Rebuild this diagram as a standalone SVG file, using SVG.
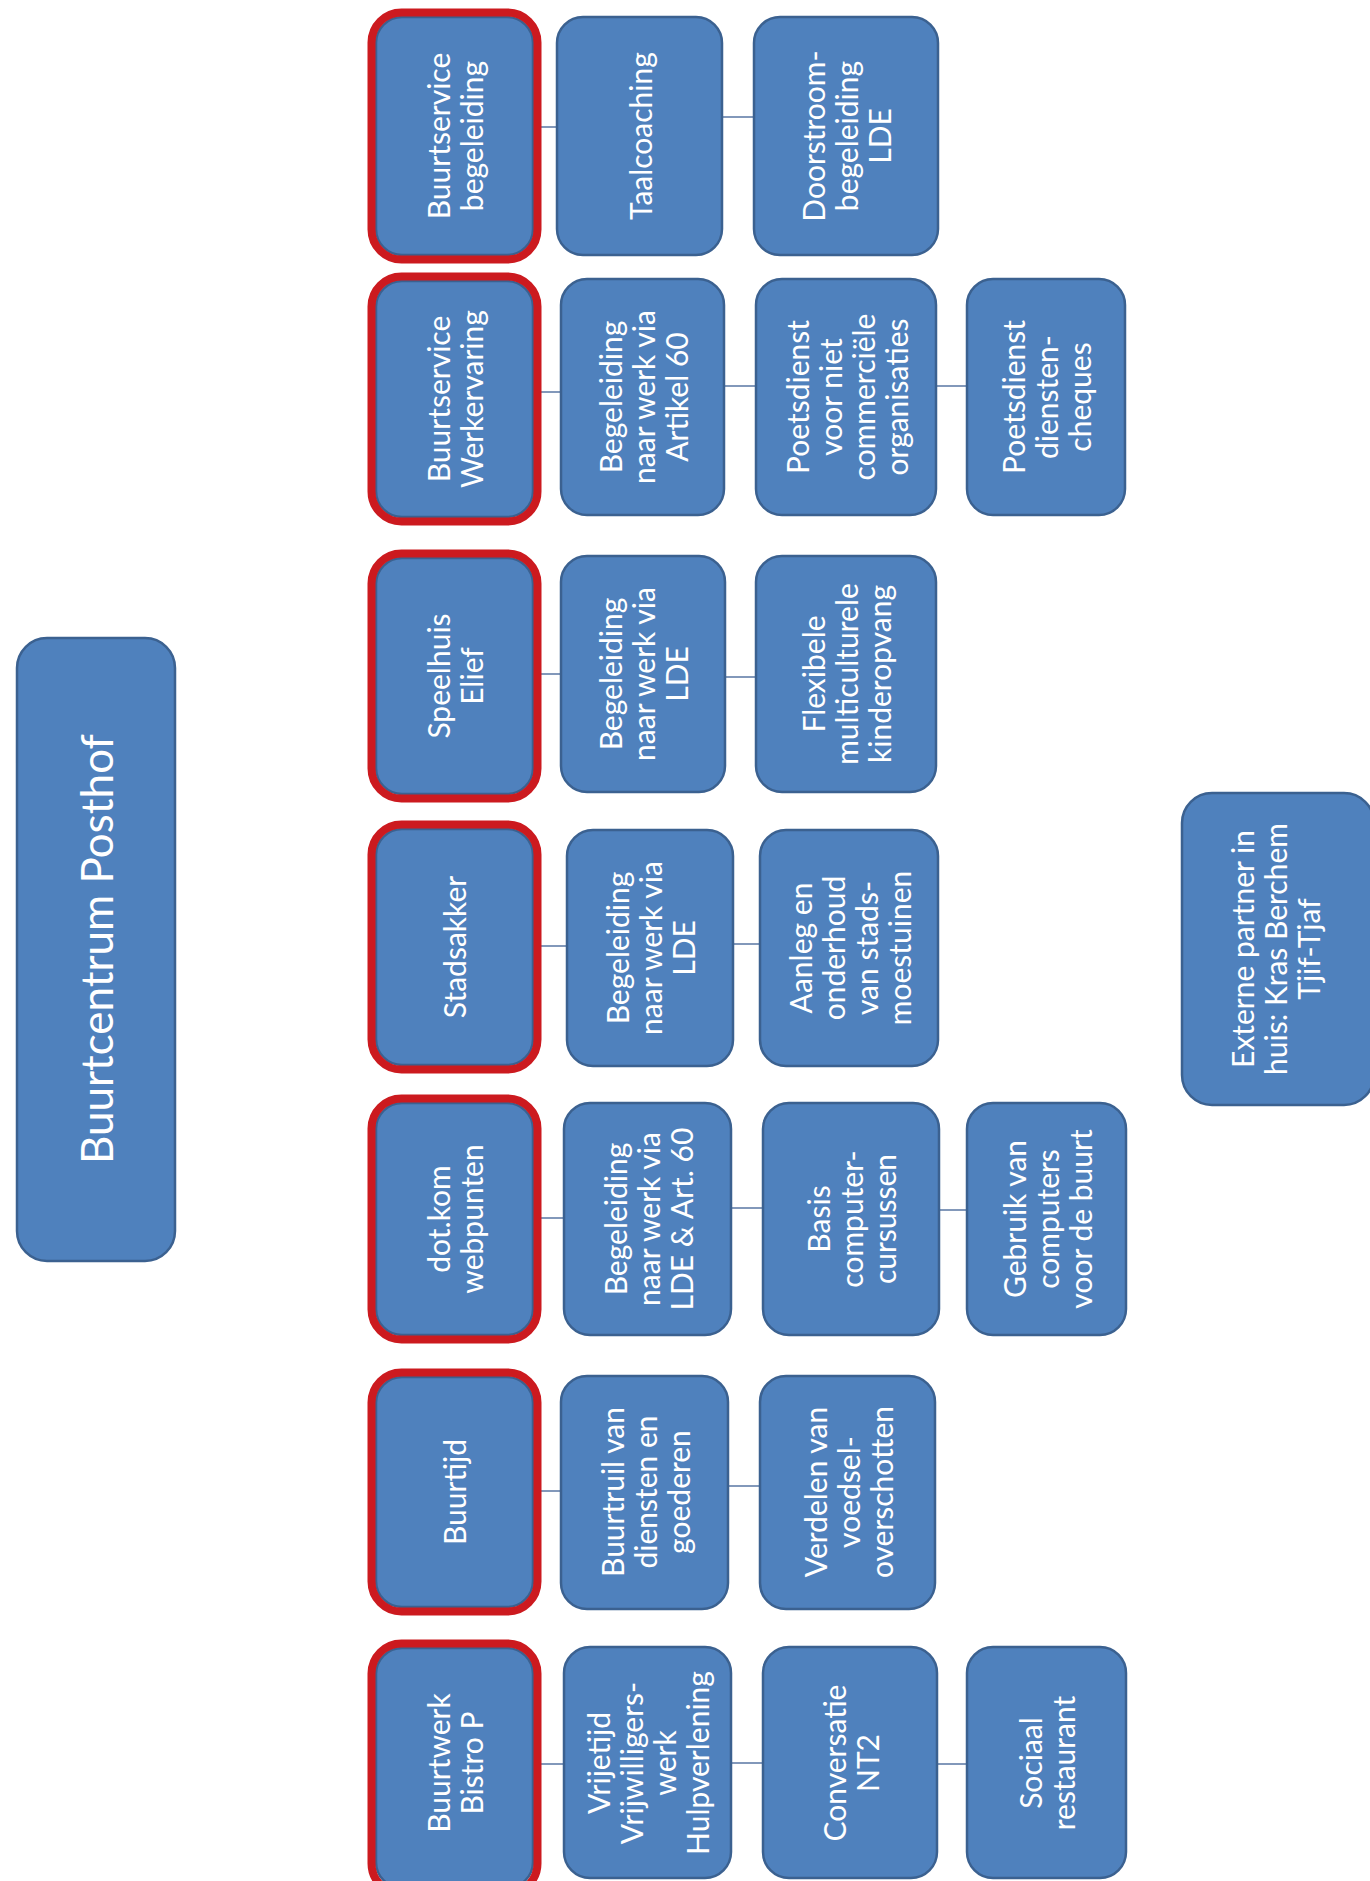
<svg xmlns="http://www.w3.org/2000/svg" width="1370" height="1881" viewBox="0 0 1370 1881">
<style>
.box{fill:#4F81BD;stroke:#3B6190;stroke-width:2.5}
.hl{fill:none;stroke:#CC1A1F;stroke-width:8}
.t{font-family:"Lato","Open Sans","Liberation Sans",sans-serif;font-size:30px;fill:#FFFFFF;text-anchor:middle;dominant-baseline:central}
.big{font-size:44px}
.c{stroke:#8298BA;stroke-width:2;fill:none}
</style>
<rect width="1370" height="1881" fill="#FFFFFF"/>
<g id="connectors">
<line class="c" x1="533" y1="127" x2="557" y2="127"/>
<line class="c" x1="722" y1="117" x2="754" y2="117"/>
<line class="c" x1="533" y1="392" x2="561" y2="392"/>
<line class="c" x1="724" y1="386" x2="756" y2="386"/>
<line class="c" x1="936" y1="386" x2="967" y2="386"/>
<line class="c" x1="533" y1="674" x2="561" y2="674"/>
<line class="c" x1="725" y1="677" x2="756" y2="677"/>
<line class="c" x1="533" y1="946" x2="567" y2="946"/>
<line class="c" x1="733" y1="944" x2="760" y2="944"/>
<line class="c" x1="533" y1="1218" x2="564" y2="1218"/>
<line class="c" x1="731" y1="1208" x2="763" y2="1208"/>
<line class="c" x1="939" y1="1210" x2="967" y2="1210"/>
<line class="c" x1="533" y1="1491" x2="561" y2="1491"/>
<line class="c" x1="728" y1="1486" x2="760" y2="1486"/>
<line class="c" x1="533" y1="1764" x2="564" y2="1764"/>
<line class="c" x1="731" y1="1763" x2="763" y2="1763"/>
<line class="c" x1="937" y1="1764" x2="967" y2="1764"/>
</g>
<g id="root">
<rect class="box" x="17" y="638" width="158" height="623" rx="30"/>
<text class="t big" transform="translate(96,949) rotate(-90)"><tspan x="0" y="0">Buurtcentrum Posthof</tspan></text>
</g>
<g id="externe">
<rect class="box" x="1182" y="793" width="192" height="312" rx="30"/>
<text class="t" transform="translate(1275,949) rotate(-90)"><tspan x="0" y="-33">Externe partner in</tspan><tspan x="0" y="0">huis: Kras Berchem</tspan><tspan x="0" y="33">Tjif-Tjaf</tspan></text>
</g>
<g id="r1a">
<rect class="box" x="376" y="17" width="157" height="238" rx="26"/>
<rect class="hl" x="371.5" y="12.5" width="166" height="247" rx="30"/>
<text class="t" transform="translate(454,136) rotate(-90)"><tspan x="0" y="-16.5">Buurtservice</tspan><tspan x="0" y="16.5">begeleiding</tspan></text>
</g>
<g id="r1b">
<rect class="box" x="557" y="17" width="165" height="238" rx="26"/>
<text class="t" transform="translate(639.5,136) rotate(-90)"><tspan x="0" y="0">Taalcoaching</tspan></text>
</g>
<g id="r1c">
<rect class="box" x="754" y="17" width="184" height="238" rx="26"/>
<text class="t" transform="translate(846,136) rotate(-90)"><tspan x="0" y="-33">Doorstroom-</tspan><tspan x="0" y="0">begeleiding</tspan><tspan x="0" y="33">LDE</tspan></text>
</g>
<g id="r2a">
<rect class="box" x="376" y="281" width="157" height="236" rx="26"/>
<rect class="hl" x="371.5" y="276.5" width="166" height="245" rx="30"/>
<text class="t" transform="translate(454,399) rotate(-90)"><tspan x="0" y="-16.5">Buurtservice</tspan><tspan x="0" y="16.5">Werkervaring</tspan></text>
</g>
<g id="r2b">
<rect class="box" x="561" y="279" width="163" height="236" rx="26"/>
<text class="t" transform="translate(642.5,397) rotate(-90)"><tspan x="0" y="-33">Begeleiding</tspan><tspan x="0" y="0">naar werk via</tspan><tspan x="0" y="33">Artikel 60</tspan></text>
</g>
<g id="r2c">
<rect class="box" x="756" y="279" width="180" height="236" rx="26"/>
<text class="t" transform="translate(846,397) rotate(-90)"><tspan x="0" y="-49.5">Poetsdienst</tspan><tspan x="0" y="-16.5">voor niet</tspan><tspan x="0" y="16.5">commerciële</tspan><tspan x="0" y="49.5">organisaties</tspan></text>
</g>
<g id="r2d">
<rect class="box" x="967" y="279" width="158" height="236" rx="26"/>
<text class="t" transform="translate(1046,397) rotate(-90)"><tspan x="0" y="-33">Poetsdienst</tspan><tspan x="0" y="0">diensten-</tspan><tspan x="0" y="33">cheques</tspan></text>
</g>
<g id="r3a">
<rect class="box" x="376" y="558" width="157" height="236" rx="26"/>
<rect class="hl" x="371.5" y="553.5" width="166" height="245" rx="30"/>
<text class="t" transform="translate(454,676) rotate(-90)"><tspan x="0" y="-16.5">Speelhuis</tspan><tspan x="0" y="16.5">Elief</tspan></text>
</g>
<g id="r3b">
<rect class="box" x="561" y="556" width="164" height="236" rx="26"/>
<text class="t" transform="translate(643,674) rotate(-90)"><tspan x="0" y="-33">Begeleiding</tspan><tspan x="0" y="0">naar werk via</tspan><tspan x="0" y="33">LDE</tspan></text>
</g>
<g id="r3c">
<rect class="box" x="756" y="556" width="180" height="236" rx="26"/>
<text class="t" transform="translate(846,674) rotate(-90)"><tspan x="0" y="-33">Flexibele</tspan><tspan x="0" y="0">multiculturele</tspan><tspan x="0" y="33">kinderopvang</tspan></text>
</g>
<g id="r4a">
<rect class="box" x="376" y="829" width="157" height="236" rx="26"/>
<rect class="hl" x="371.5" y="824.5" width="166" height="245" rx="30"/>
<text class="t" transform="translate(454,947) rotate(-90)"><tspan x="0" y="0">Stadsakker</tspan></text>
</g>
<g id="r4b">
<rect class="box" x="567" y="830" width="166" height="236" rx="26"/>
<text class="t" transform="translate(650,948) rotate(-90)"><tspan x="0" y="-33">Begeleiding</tspan><tspan x="0" y="0">naar werk via</tspan><tspan x="0" y="33">LDE</tspan></text>
</g>
<g id="r4c">
<rect class="box" x="760" y="830" width="178" height="236" rx="26"/>
<text class="t" transform="translate(849,948) rotate(-90)"><tspan x="0" y="-49.5">Aanleg en</tspan><tspan x="0" y="-16.5">onderhoud</tspan><tspan x="0" y="16.5">van stads-</tspan><tspan x="0" y="49.5">moestuinen</tspan></text>
</g>
<g id="r5a">
<rect class="box" x="376" y="1103" width="157" height="232" rx="26"/>
<rect class="hl" x="371.5" y="1098.5" width="166" height="241" rx="30"/>
<text class="t" transform="translate(454,1219) rotate(-90)"><tspan x="0" y="-16.5">dot.kom</tspan><tspan x="0" y="16.5">webpunten</tspan></text>
</g>
<g id="r5b">
<rect class="box" x="564" y="1103" width="167" height="232" rx="26"/>
<text class="t" transform="translate(647.5,1219) rotate(-90)"><tspan x="0" y="-33">Begeleiding</tspan><tspan x="0" y="0">naar werk via</tspan><tspan x="0" y="33">LDE &amp; Art. 60</tspan></text>
</g>
<g id="r5c">
<rect class="box" x="763" y="1103" width="176" height="232" rx="26"/>
<text class="t" transform="translate(851,1219) rotate(-90)"><tspan x="0" y="-33">Basis</tspan><tspan x="0" y="0">computer-</tspan><tspan x="0" y="33">cursussen</tspan></text>
</g>
<g id="r5d">
<rect class="box" x="967" y="1103" width="159" height="232" rx="26"/>
<text class="t" transform="translate(1046.5,1219) rotate(-90)"><tspan x="0" y="-33">Gebruik van</tspan><tspan x="0" y="0">computers</tspan><tspan x="0" y="33">voor de buurt</tspan></text>
</g>
<g id="r6a">
<rect class="box" x="376" y="1377" width="157" height="230" rx="26"/>
<rect class="hl" x="371.5" y="1372.5" width="166" height="239" rx="30"/>
<text class="t" transform="translate(454,1492) rotate(-90)"><tspan x="0" y="0">Buurtijd</tspan></text>
</g>
<g id="r6b">
<rect class="box" x="561" y="1376" width="167" height="233" rx="26"/>
<text class="t" transform="translate(644.5,1492) rotate(-90)"><tspan x="0" y="-33">Buurtruil van</tspan><tspan x="0" y="0">diensten en</tspan><tspan x="0" y="33">goederen</tspan></text>
</g>
<g id="r6c">
<rect class="box" x="760" y="1376" width="175" height="233" rx="26"/>
<text class="t" transform="translate(847.5,1492) rotate(-90)"><tspan x="0" y="-33">Verdelen van</tspan><tspan x="0" y="0">voedsel-</tspan><tspan x="0" y="33">overschotten</tspan></text>
</g>
<g id="r7a">
<rect class="box" x="376" y="1648" width="157" height="240" rx="26"/>
<rect class="hl" x="371.5" y="1643.5" width="166" height="250" rx="30"/>
<text class="t" transform="translate(454,1763) rotate(-90)"><tspan x="0" y="-16.5">Buurtwerk</tspan><tspan x="0" y="16.5">Bistro P</tspan></text>
</g>
<g id="r7b">
<rect class="box" x="564" y="1647" width="167" height="231" rx="26"/>
<text class="t" transform="translate(647.5,1763) rotate(-90)"><tspan x="0" y="-49.5">Vrijetijd</tspan><tspan x="0" y="-16.5">Vrijwilligers-</tspan><tspan x="0" y="16.5">werk</tspan><tspan x="0" y="49.5">Hulpverlening</tspan></text>
</g>
<g id="r7c">
<rect class="box" x="763" y="1647" width="174" height="231" rx="26"/>
<text class="t" transform="translate(850,1763) rotate(-90)"><tspan x="0" y="-16.5">Conversatie</tspan><tspan x="0" y="16.5">NT2</tspan></text>
</g>
<g id="r7d">
<rect class="box" x="967" y="1647" width="159" height="231" rx="26"/>
<text class="t" transform="translate(1046.5,1763) rotate(-90)"><tspan x="0" y="-16.5">Sociaal</tspan><tspan x="0" y="16.5">restaurant</tspan></text>
</g>
</svg>
